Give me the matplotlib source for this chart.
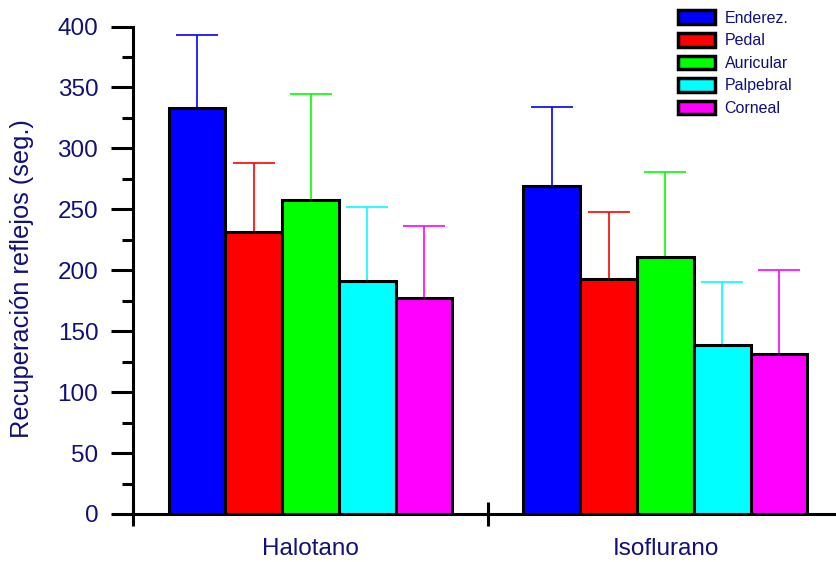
import matplotlib
matplotlib.use("Agg")
import matplotlib.pyplot as plt
import numpy as np

plt.rcParams['font.family'] = ['Liberation Sans', 'DejaVu Sans']

groups = ["Halotano", "Isoflurano"]
reflexes = ["Enderez.", "Pedal", "Auricular", "Palpebral", "Corneal"]
colors = ["#0000ff", "#ff0000", "#00ff00", "#00ffff", "#ff00ff"]

# mean recovery time (s) per reflex, one list per anaesthetic
means = {
    "Halotano":   [333, 231, 258, 191, 177],
    "Isoflurano": [269, 193, 211, 139, 131],
}
# upper error (s), drawn above each bar
errors = {
    "Halotano":   [60, 57, 87, 61, 59],
    "Isoflurano": [65, 55, 70, 51, 69],
}

text_color = "#101078"

fig = plt.figure(figsize=(8.37, 5.62), dpi=100)
ax = fig.add_axes([133 / 837, 1 - 514 / 562, 710 / 837, 487.5 / 562])

width = 0.16
centers = np.arange(len(groups)) + 0.5
for i, (name, col) in enumerate(zip(reflexes, colors)):
    x = centers + (i - 2) * width
    vals = [means[g][i] for g in groups]
    errs = [errors[g][i] for g in groups]
    ax.bar(x, vals, width=width, color=col, edgecolor="black", linewidth=2.2,
           label=name, zorder=3)
    ax.errorbar(x, vals, yerr=[np.zeros(len(vals)), errs], fmt="none",
                ecolor=col, elinewidth=1.2, capsize=15, capthick=1.2, zorder=2)

ax.set_xlim(0, 2)
ax.set_ylim(0, 400)

for s in ("top", "right"):
    ax.spines[s].set_visible(False)
for s in ("left", "bottom"):
    ax.spines[s].set_linewidth(2.2)
    ax.spines[s].set_color("black")

ax.set_yticks(np.arange(0, 401, 50))
ax.set_yticks(np.arange(25, 400, 50), minor=True)
ax.tick_params(axis="y", which="major", direction="out", length=16, width=2.2,
               labelsize=17.5, labelcolor=text_color, pad=9)
ax.tick_params(axis="y", which="minor", direction="out", length=8, width=2.2)

ax.set_xticks([0, 1, 2])
ax.set_xticklabels([])
ax.tick_params(axis="x", which="major", direction="inout", length=17, width=2.2)
for c, g in zip(centers, groups):
    ax.text(c, -20, g, ha="center", va="top", fontsize=17.5, color=text_color,
            transform=ax.transData, clip_on=False)

fig.text(22 / 837, 1 - 279 / 562, "Recuperación reflejos (seg.)", rotation=90,
         ha="center", va="center", fontsize=18.3, color=text_color)

leg = ax.legend(loc="upper left", bbox_to_anchor=(672 / 837, 1 - 4 / 562),
                bbox_transform=fig.transFigure, frameon=False, fontsize=11.5,
                handlelength=2.3, handleheight=0.95, labelspacing=0.45,
                handletextpad=0.6, borderaxespad=0)
for t in leg.get_texts():
    t.set_color(text_color)
for h in leg.legend_handles:
    h.set_linewidth(2.5)

fig.savefig("out.png", dpi=100)
